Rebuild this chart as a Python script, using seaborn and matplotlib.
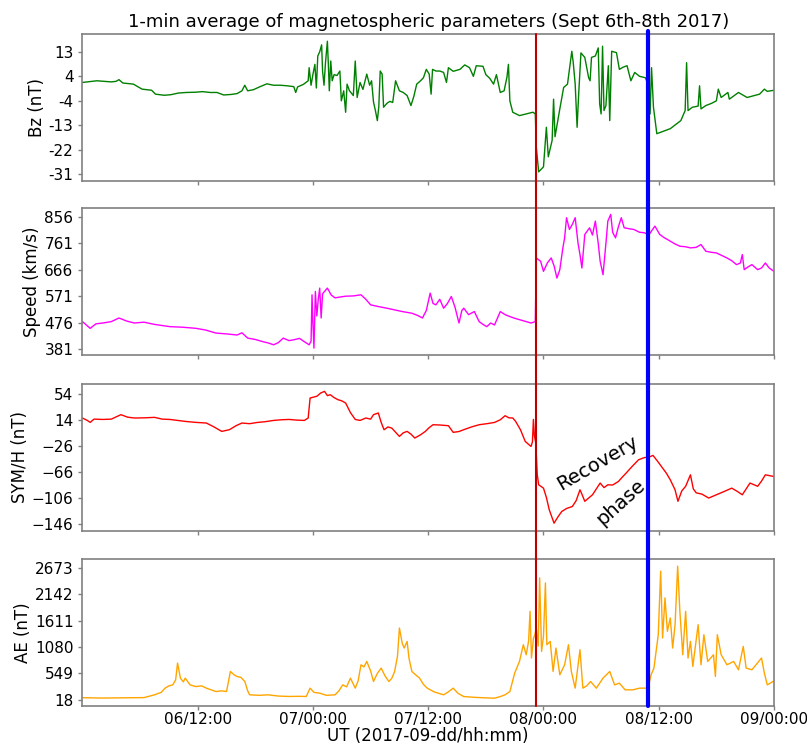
import numpy as np
import pandas as pd
import matplotlib
matplotlib.use("Agg")
import matplotlib.pyplot as plt
import matplotlib.dates as mdates
import seaborn as sns
from matplotlib.lines import Line2D
from matplotlib.transforms import blended_transform_factory

# (hours since 2017-09-06 00:00 UT, value)
bz_points = [
    (0, 2.0), (1.5, 2.6), (3.0, 2.2), (3.5, 2.4), (3.8, 3.0), (4.2, 1.8), (5.3, 1.4), (6.2, -0.4),
    (7.2, -0.8), (7.6, -2.2), (8.5, -2.6), (9.2, -2.4), (10.0, -1.8), (10.8, -1.6), (11.8, -1.5),
    (12.5, -1.3), (13.3, -1.6), (14.0, -1.6), (14.7, -2.5), (15.5, -2.3), (16.1, -2.0), (16.6, -1.0),
    (16.9, 1.0), (17.2, -1.0), (17.8, -0.6), (18.5, 0.5), (19.2, 1.5), (19.9, 1.0), (20.6, 1.0),
    (21.3, 0.8), (22.0, 0.5), (22.2, -1.6), (22.4, 0.4), (23.0, 1.3), (23.5, 2.6), (23.6, 7.3),
    (23.8, 1.0), (24.0, 5.0), (24.2, 8.5), (24.35, 0.0), (24.5, 11.5), (24.7, 13.0), (24.9, 15.5),
    (25.0, 6.0), (25.15, 1.0), (25.3, 9.0), (25.5, 16.8), (25.6, 8.5), (25.7, -1.0), (25.85, 9.7),
    (26.0, 2.6), (26.2, 4.8), (26.5, 4.5), (26.8, 6.1), (26.95, -4.6), (27.2, -1.0), (27.4, -8.7),
    (27.55, 1.4), (27.8, -1.0), (28.2, -2.7), (28.4, 9.7), (28.6, -3.4), (28.9, 2.0), (29.2, -0.5),
    (29.6, 5.0), (29.9, 1.0), (30.1, 2.6), (30.3, -5.0), (30.5, -8.1), (30.7, -11.7), (30.85, -6.9),
    (31.0, 6.1), (31.2, 5.0), (31.35, -6.9), (31.7, -5.5), (32.0, -4.8), (32.3, -5.2), (32.6, 2.6),
    (33.0, -1.0), (33.4, -1.6), (33.8, -2.7), (34.2, -6.3), (34.5, -3.0), (34.8, 1.4), (35.2, 2.6),
    (35.5, 3.7), (35.8, 6.7), (36.1, 5.0), (36.3, -2.2), (36.45, 6.7), (36.8, 6.1), (37.2, 6.1),
    (37.6, 5.6), (37.9, 2.0), (38.1, 7.3), (38.6, 6.0), (39.3, 6.7), (39.8, 8.3), (40.3, 7.3),
    (40.7, 4.2), (41.0, 8.0), (41.7, 7.8), (42.0, 4.8), (42.4, 3.5), (42.8, 1.4), (43.1, 4.8),
    (43.5, -1.6), (43.9, -1.0), (44.2, 4.0), (44.35, 8.5), (44.5, -4.6), (44.8, -8.7), (45.5, -9.9),
    (46.2, -9.3), (46.9, -8.7), (47.15, -9.3), (47.25, -21.2), (47.5, -30.1), (48.0, -28.3),
    (48.3, -14.1), (48.5, -24.7), (48.9, -18.8), (49.05, -4.0), (49.2, -17.5), (49.7, -7.5),
    (50.1, 0.2), (50.5, 1.4), (50.8, 9.1), (50.95, 13.2), (51.1, 9.1), (51.3, 1.4), (51.5, -14.1),
    (51.65, -3.1), (51.9, 12.6), (52.3, 11.0), (52.7, 3.7), (52.85, 2.6), (53.0, 11.0), (53.4, 11.5),
    (53.7, 14.4), (53.85, -5.7), (54.0, -9.3), (54.15, 15.0), (54.3, -8.1), (54.5, -6.3),
    (54.75, 8.0), (54.9, -11.7), (55.1, 13.2), (55.6, 12.7), (55.9, 6.7), (56.3, 7.5), (56.7, 8.0),
    (57.1, 2.6), (57.5, 5.6), (58.0, 4.2), (58.6, 3.7), (58.9, 1.4), (59.1, -9.3), (59.25, 7.3),
    (59.45, -6.9), (59.8, -16.4), (61.2, -14.6), (62.3, -11.7), (62.75, -8.1), (62.9, 9.1),
    (63.05, -8.1), (63.5, -6.9), (64.1, -6.5), (64.25, 0.8), (64.4, -7.5), (64.9, -6.3),
    (65.5, -5.5), (66.0, -4.6), (66.2, -0.4), (66.5, -3.4), (67.2, -1.6), (67.35, -4.0),
    (68.3, -1.6), (69.2, -3.4), (70.5, -2.2), (71.0, -0.4), (71.3, -1.2), (72.0, -0.8),
]

speed_points = [
    (0, 480), (0.8, 456), (1.4, 472), (2.1, 475), (3.0, 480), (3.8, 493), (4.6, 482), (5.4, 475),
    (6.4, 478), (7.5, 470), (8.3, 466), (9.1, 462), (10.4, 460), (11.8, 456), (12.8, 450),
    (13.9, 439), (15.0, 436), (16.1, 432), (16.6, 440), (17.2, 421), (18.0, 416), (18.8, 408),
    (19.4, 403), (19.9, 397), (20.4, 405), (20.9, 421), (21.5, 412), (22.0, 415), (22.6, 420),
    (23.1, 408), (23.6, 397), (23.8, 410), (23.9, 576), (24.0, 470), (24.1, 385), (24.25, 588),
    (24.4, 500), (24.55, 560), (24.7, 600), (24.85, 493), (25.0, 580), (25.5, 600), (25.9, 575),
    (26.3, 565), (26.8, 568), (27.4, 571), (28.2, 572), (29.0, 576), (29.5, 560), (30.0, 540),
    (30.8, 534), (31.7, 528), (32.5, 522), (33.3, 516), (34.3, 510), (34.9, 502), (35.4, 493),
    (35.8, 520), (36.2, 582), (36.5, 545), (36.8, 540), (37.2, 560), (37.6, 528), (38.0, 545),
    (38.4, 570), (38.8, 530), (39.2, 475), (39.5, 520), (39.7, 528), (40.2, 505), (40.8, 516),
    (41.3, 480), (41.7, 470), (42.1, 462), (42.5, 475), (42.9, 468), (43.5, 516), (44.0, 505),
    (44.5, 498), (45.0, 492), (45.6, 486), (46.2, 480), (46.7, 475), (47.15, 480), (47.25, 708),
    (47.7, 696), (48.0, 660), (48.4, 690), (48.8, 708), (49.1, 680), (49.4, 636), (49.7, 666),
    (50.0, 740), (50.2, 780), (50.4, 852), (50.7, 810), (51.0, 828), (51.3, 852), (51.6, 760),
    (51.8, 720), (52.0, 672), (52.3, 792), (52.8, 816), (53.1, 790), (53.4, 840), (53.7, 760),
    (53.9, 696), (54.2, 648), (54.5, 760), (54.7, 840), (55.0, 864), (55.2, 800), (55.5, 780),
    (55.8, 820), (56.1, 852), (56.4, 816), (57.0, 812), (57.4, 810), (58.0, 800), (58.5, 798),
    (59.0, 792), (59.6, 822), (60.1, 792), (60.6, 780), (61.2, 768), (61.7, 758), (62.2, 750),
    (62.8, 748), (63.3, 744), (63.9, 746), (64.4, 756), (64.9, 732), (65.5, 728), (66.0, 726),
    (66.6, 716), (67.1, 708), (67.6, 698), (68.1, 684), (68.5, 690), (68.7, 720), (68.9, 666),
    (69.3, 676), (69.7, 684), (70.3, 666), (70.7, 672), (71.1, 690), (71.5, 672), (72.0, 660),
]

symh_points = [
    (0, 16.7), (0.5, 13), (0.8, 10), (1.2, 15), (2.1, 14.5), (3.0, 15), (4.0, 21.8), (4.7, 18),
    (5.4, 16.7), (6.5, 17), (7.5, 17.7), (8.3, 15), (9.1, 14.5), (9.9, 13), (10.7, 11.5),
    (11.8, 10), (12.9, 9), (13.7, 3), (14.5, -3.8), (15.3, -1.2), (16.0, 5), (16.6, 9), (17.4, 8),
    (18.2, 9.9), (19.0, 11), (19.9, 13), (20.7, 14), (21.5, 14.5), (22.3, 13.5), (23.1, 13),
    (23.5, 16.7), (23.7, 47.4), (24.4, 50), (24.8, 55), (25.2, 57.6), (25.5, 51), (25.8, 52.4),
    (26.2, 48), (26.6, 44.8), (27.0, 43), (27.4, 39.7), (27.9, 25), (28.4, 14.5), (28.9, 13),
    (29.5, 16.7), (30.0, 15), (30.3, 21.8), (30.8, 24.4), (31.1, 10), (31.4, -1.3), (31.8, 3),
    (32.2, 1.3), (32.6, -5), (33.0, -11.5), (33.4, -6), (33.8, -3.8), (34.2, -8), (34.6, -14),
    (35.2, -9), (35.7, -3.8), (36.1, 2), (36.5, 6.4), (37.2, 6), (38.1, 4.9), (38.6, -5.3),
    (39.2, -4), (39.7, -1.2), (40.5, 3), (41.3, 6.4), (42.1, 8), (42.9, 9.9), (43.5, 14),
    (44.0, 20.2), (44.4, 17), (44.8, 16.7), (45.1, 11.5), (45.6, -1.2), (46.1, -19.2),
    (46.7, -26.9), (46.85, -20), (46.95, 14.5), (47.05, -10), (47.2, -21.8), (47.35, -70),
    (47.5, -85.7), (48.0, -90.8), (48.3, -105), (48.6, -124), (49.1, -144.5), (49.5, -135),
    (49.9, -126.6), (50.4, -122), (51.0, -119), (51.4, -110), (51.8, -93.4), (52.0, -100),
    (52.3, -111), (52.7, -106), (53.1, -101), (53.5, -92), (53.9, -83), (54.3, -90), (54.7, -85.7),
    (55.2, -86), (55.8, -80.6), (56.2, -74), (56.6, -67.8), (57.2, -58), (57.9, -47.3), (58.5, -44),
    (59.0, -43.2), (59.4, -40.6), (59.9, -50), (60.4, -60), (60.8, -68), (61.2, -78), (61.7, -93.4),
    (62.0, -111), (62.4, -95), (62.8, -88), (63.3, -70.4), (63.6, -92), (63.9, -98), (64.5, -100),
    (65.2, -106), (66.0, -101), (66.8, -96), (67.6, -90.8), (68.2, -96), (68.7, -101), (69.1, -92),
    (69.5, -83), (70.3, -88), (70.7, -80), (71.1, -70.4), (72.0, -73),
]

ae_points = [
    (0, 62), (2, 55), (4, 60), (6.4, 64), (7.5, 120), (8.2, 170), (8.6, 254), (9.0, 300),
    (9.4, 320), (9.7, 420), (9.9, 758), (10.2, 455), (10.5, 380), (10.7, 455), (11.2, 320),
    (11.8, 286), (12.4, 300), (12.9, 254), (13.4, 220), (13.9, 186), (14.5, 200), (15.0, 186),
    (15.4, 589), (15.8, 520), (16.1, 488), (16.5, 470), (16.9, 388), (17.2, 200), (17.4, 120),
    (18.4, 110), (19.3, 120), (20.4, 95), (21.5, 87), (22.5, 90), (23.3, 87), (23.7, 254),
    (24.1, 170), (24.7, 153), (25.4, 110), (26.3, 120), (26.7, 200), (27.1, 320), (27.5, 280),
    (27.9, 455), (28.4, 254), (28.7, 400), (29.0, 724), (29.3, 680), (29.6, 791), (30.0, 600),
    (30.3, 388), (30.7, 550), (31.1, 657), (31.5, 500), (31.9, 388), (32.2, 450), (32.5, 589),
    (32.8, 900), (33.0, 1463), (33.3, 1150), (33.5, 1060), (33.8, 1194), (34.0, 850), (34.3, 589),
    (34.7, 520), (35.1, 455), (35.5, 330), (35.9, 254), (36.6, 180), (37.6, 120), (38.1, 180),
    (38.6, 254), (39.1, 150), (39.7, 85), (40.8, 70), (41.8, 60), (42.9, 52),
    (43.5, 85), (44.0, 120), (44.5, 186), (45.0, 556), (45.5, 791), (45.9, 1127), (46.2, 925),
    (46.45, 1200), (46.6, 1798), (46.75, 859), (46.95, 1250), (47.1, 1328), (47.25, 1463),
    (47.45, 1100), (47.6, 2471), (47.8, 993), (48.0, 1300), (48.2, 2370), (48.35, 1127),
    (48.7, 1194), (49.0, 589), (49.3, 1060), (49.7, 522), (50.2, 724), (50.6, 1127), (50.9, 589),
    (51.3, 254), (51.8, 1026), (52.1, 254), (52.5, 300), (52.9, 388), (53.5, 254), (54.2, 455),
    (54.9, 589), (55.4, 320), (55.9, 354), (56.5, 220), (57.3, 220), (58.0, 254), (58.9, 254),
    (59.2, 522), (59.5, 657), (59.95, 1328), (60.2, 2604), (60.4, 1261), (60.65, 2068),
    (60.9, 1396), (61.2, 1665), (61.45, 1060), (61.7, 1530), (61.97, 2706), (62.2, 1798),
    (62.5, 925), (62.8, 1798), (63.05, 859), (63.3, 1194), (63.55, 690), (64.1, 1530), (64.4, 724),
    (64.7, 1328), (65.1, 791), (65.7, 925), (65.9, 489), (66.1, 1328), (66.5, 925), (67.1, 724),
    (67.8, 791), (68.3, 623), (68.8, 1093), (69.1, 657), (69.7, 623), (70.7, 859), (71.0, 556),
    (71.3, 320), (71.9, 388), (72.0, 400),
]

# y ticks as printed on the figure
bz_ticks = [-31, -22.2, -13.4, -4.6, 4.2, 13]
bz_labels = ["-31", "-22", "-13", "-4", "4", "13"]
speed_ticks = [381, 476, 571, 666, 761, 856]
symh_ticks = [-146, -106, -66, -26, 14, 54]
symh_labels = ["\u2212146", "\u2212106", "\u221266", "\u221226", "14", "54"]
ae_ticks = [18, 549, 1080, 1611, 2142, 2673]

storm_onset_h = 47.2   # red line
recovery_h = 58.9      # blue line

start = pd.Timestamp("2017-09-06 00:00")


def to_frame(points):
    h, v = zip(*points)
    return pd.DataFrame({"time": start + pd.to_timedelta(list(h), unit="h"), "value": v})


sns.set_style("ticks")
plt.rcParams['font.family'] = ['DejaVu Sans']
plt.rcParams['text.color'] = 'black'
plt.rcParams['axes.labelcolor'] = 'black'
plt.rcParams['xtick.labelcolor'] = 'black'
plt.rcParams['ytick.labelcolor'] = 'black'

fig = plt.figure(figsize=(8.07, 7.45), dpi=100)
left, width, height = 0.1022, 0.8569, 0.197
bottoms = [0.757, 0.5235, 0.2877, 0.052]

panels = [
    (bz_points, "green", "Bz (nT)", bz_ticks, bz_labels, (-33.4, 19.3)),
    (speed_points, "magenta", "Speed (km/s)", speed_ticks, [str(t) for t in speed_ticks], (360.5, 886)),
    (symh_points, "red", "SYM/H (nT)", symh_ticks, symh_labels, (-156, 69)),
    (ae_points, "orange", "AE (nT)", ae_ticks, [str(t) for t in ae_ticks], (-110, 2840)),
]

x0 = start
x1 = start + pd.Timedelta(hours=72)
xticks = [start + pd.Timedelta(hours=h) for h in [12, 24, 36, 48, 60, 72]]

axes = []
for i, (pts, color, label, ticks, labels, ylim) in enumerate(panels):
    ax = fig.add_axes([left, bottoms[i], width, height])
    df = to_frame(pts)
    sns.lineplot(data=df, x="time", y="value", color=color, linewidth=1.0, ax=ax)
    ax.set_xlim(x0, x1)
    ax.set_ylim(*ylim)
    ax.set_yticks(ticks)
    ax.set_yticklabels(labels, fontsize=11)
    ax.set_ylabel(label, fontsize=12, labelpad=2)
    ax.set_xticks(xticks)
    ax.xaxis.set_major_formatter(mdates.DateFormatter("%d/%H:%M"))
    if i < 3:
        ax.set_xticklabels([])
        ax.set_xlabel("")
    else:
        ax.tick_params(axis="x", labelsize=11, pad=1)
        ax.set_xlabel("UT (2017-09-dd/hh:mm)", fontsize=12, labelpad=0)
    for s in ax.spines.values():
        s.set_visible(True)
        s.set_color("#808080")
        s.set_linewidth(1.2)
    ax.tick_params(color="#808080", length=3, width=1)
    axes.append(ax)

axes[0].set_title("1-min average of magnetospheric parameters (Sept 6th-8th 2017)", fontsize=13, pad=5)

# annotation in the SYM/H panel
ax3 = axes[2]
ax3.text(mdates.date2num(start + pd.Timedelta(hours=53.6)), -52, "Recovery",
         rotation=30, fontsize=14, ha="center", va="center")
ax3.text(mdates.date2num(start + pd.Timedelta(hours=56.0)), -113, "phase",
         rotation=42, fontsize=14, ha="center", va="center")

# vertical markers running through all four panels
trans = blended_transform_factory(axes[3].transData, fig.transFigure)
top = bottoms[0] + height
for h, c, lw, ytop in [(storm_onset_h, "#c00000", 1.5, top), (recovery_h, "blue", 3, top + 0.004)]:
    xd = mdates.date2num(start + pd.Timedelta(hours=h))
    fig.add_artist(Line2D([xd, xd], [bottoms[3], ytop], transform=trans, color=c, linewidth=lw, zorder=5))

fig.savefig("out.png", dpi=100)
